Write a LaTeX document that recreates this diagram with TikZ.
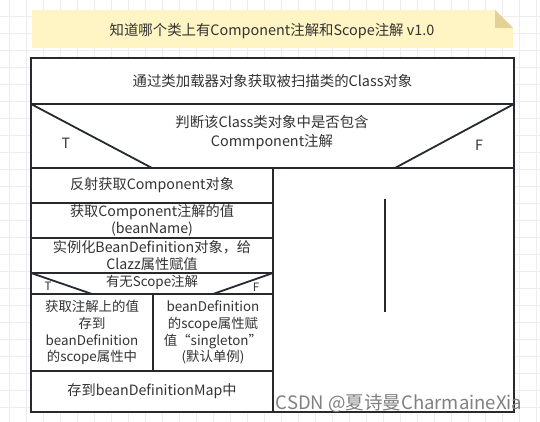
\documentclass[tikz,border=0pt]{standalone}
\usepackage{fontspec}
\setmainfont{Noto Sans CJK SC}
\definecolor{linec}{HTML}{262A2F}
\definecolor{textc}{HTML}{333333}
\definecolor{notey}{HTML}{FFF4C3}
\definecolor{notef}{HTML}{E3D196}
\definecolor{gridc}{HTML}{EDEDED}
\newcommand{\fsbig}{\fontsize{14.4}{19}\selectfont}
\newcommand{\fsrow}{\fontsize{14.2}{17}\selectfont}
\newcommand{\fssmall}{\fontsize{13.4}{16.8}\selectfont}
\tikzset{
  cell/.style={draw=linec, line width=1.8pt, fill=white, inner sep=0pt, align=center, text=textc, font=\fsrow},
  lbl/.style={inner sep=0pt, align=center, text=textc, font=\fsrow},
  edge/.style={draw=linec, line width=1.8pt},
}
\begin{document}
\begin{tikzpicture}[x=1pt,y=-1pt]
\useasboundingbox (0,0) rectangle (540,422);
\fill[white] (0,0) rectangle (540,422);
% grid
\foreach \gx in {9,26,...,540} \draw[gridc, line width=0.6pt] (\gx,0) -- (\gx,422);
\foreach \gy in {16,33,...,422} \draw[gridc, line width=0.6pt] (0,\gy) -- (540,\gy);
% note
\fill[notey] (32,10) -- (495,10) -- (513,28) -- (513,48) -- (32,48) -- cycle;
\fill[notef] (495,10) -- (513,28) -- (495,28) -- cycle;
\node[lbl, font=\fsbig] (title) at (272,31) {知道哪个类上有Component注解和Scope注解 v1.0};
% top row
\node[cell, font=\fsbig, minimum width=483pt, minimum height=46pt] (load) at (272.5,81) {通过类加载器对象获取被扫描类的Class对象};
% decision 1
\node[cell, minimum width=483pt, minimum height=64pt] (dec) at (272.5,136) {};
\coordinate (d1a) at (31,104);
\coordinate (d1b) at (152,168);
\coordinate (d1c) at (514,104);
\coordinate (d1d) at (395,168);
\draw[edge] (d1a) -- (d1b);
\draw[edge] (d1c) -- (d1d);
\node[lbl, font=\fsbig] (dectext) at (272,132.5) {判断该Class类对象中是否包含\\Commponent注解};
\node[lbl] (decT) at (66,143) {T};
\node[lbl] (decF) at (479,145) {F};
% left column
\node[cell, minimum width=242pt, minimum height=35pt] (refl) at (152,185.5) {反射获取Component对象};
\node[cell, minimum width=242pt, minimum height=35pt] (getv) at (152,220.5) {获取Component注解的值\\(beanName)};
\node[cell, minimum width=242pt, minimum height=35pt] (inst) at (152,255.5) {实例化BeanDefinition对象，给\\Clazz属性赋值};
% decision 2
\node[cell, minimum width=242pt, minimum height=21pt] (dec2) at (152,283.5) {};
\coordinate (d2a) at (31,273);
\coordinate (d2b) at (92,294);
\coordinate (d2c) at (273,273);
\coordinate (d2d) at (213,294);
\draw[edge] (d2a) -- (d2b);
\draw[edge] (d2c) -- (d2d);
\node[lbl, font=\fssmall] (dec2text) at (152,282) {有无Scope注解};
\node[lbl, font=\fontsize{11.5}{13}\selectfont] (dec2T) at (48,286) {T};
\node[lbl, font=\fontsize{11.5}{13}\selectfont] (dec2F) at (256,287) {F};
% two cells
\node[cell, font=\fssmall, minimum width=122pt, minimum height=77pt] (yes) at (92,332.5) {获取注解上的值\\存到\\beanDefinition\\的scope属性中};
\node[cell, font=\fssmall, minimum width=120pt, minimum height=77pt] (no) at (213,332.5) {beanDefinition\\的scope属性赋\\值“singleton”\\(默认单例)};
\node[cell, minimum width=242pt, minimum height=41pt] (store) at (152,391.5) {存到beanDefinitionMap中};
% right column
\node[cell, minimum width=241pt, minimum height=244pt] (empty) at (393.5,290) {};
\coordinate (vtop) at (385,199);
\coordinate (vbot) at (385,312);
\draw[edge] (vtop) -- (vbot);
% watermark
\node[inner sep=0pt, text=black!50, font=\fontsize{18.5}{20}\selectfont] (wm) at (399,403) {CSDN @夏诗曼CharmaineXia};
\end{tikzpicture}
\end{document}
